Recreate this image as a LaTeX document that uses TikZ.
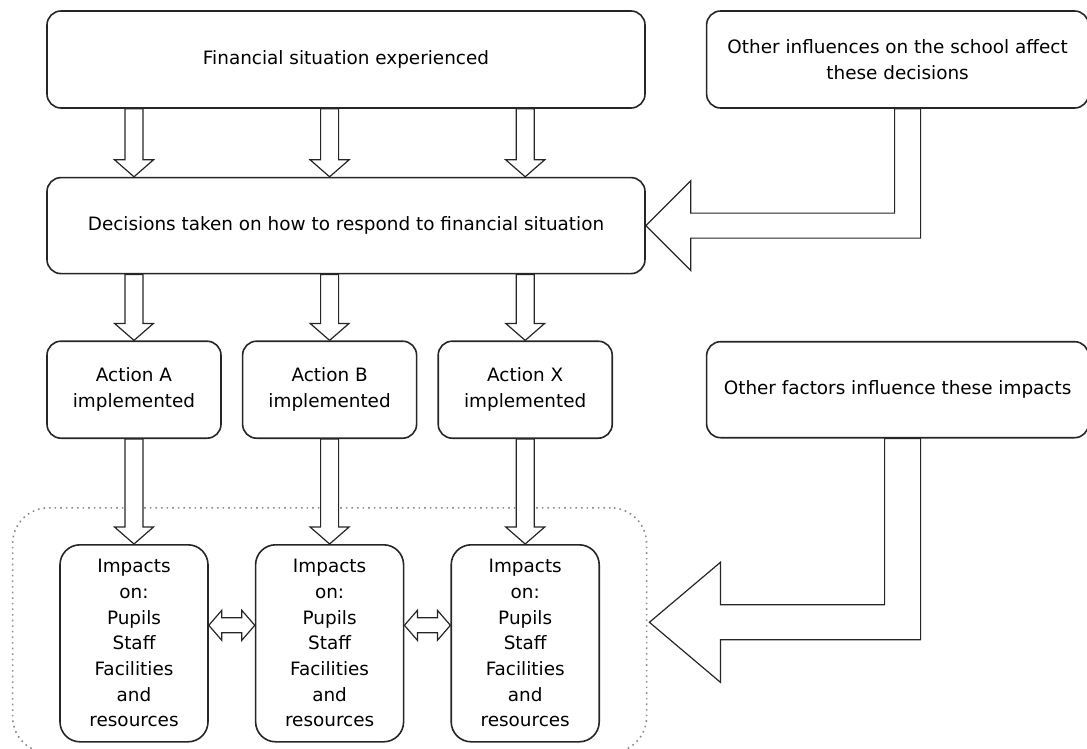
\documentclass[tikz,border=0pt]{standalone}
\usepackage{fontspec}
\setmainfont{DejaVu Sans}
\usetikzlibrary{positioning,calc}

\begin{document}
\begin{tikzpicture}[
    node distance=10pt,
    every node/.style={font=\fontsize{9.2}{12.85}\selectfont},
    stagebox/.style={
        rectangle, rounded corners=7pt,
        draw=black!85, line width=0.8pt,
        minimum width=299pt, minimum height=48pt,
        align=center, inner sep=3pt
    },
    sidebox/.style={stagebox, minimum width=191pt},
    actbox/.style={stagebox, minimum width=87pt, minimum height=48.5pt},
    impactbox/.style={stagebox, rounded corners=10pt, minimum width=74pt, minimum height=98.5pt},
    groupbox/.style={
        rectangle, rounded corners=18pt,
        draw=black!45, dotted, line width=0.8pt,
        minimum width=317pt, minimum height=122.5pt
    },
    blockarr/.style={draw=black!85, line width=0.6pt, fill=white, line join=miter},
]
\useasboundingbox (0,0) rectangle (543.5pt,-374.5pt);

\node[stagebox, minimum height=48.5pt] (fin) at (173pt,-29.75pt) {Financial situation experienced};
\node[sidebox, minimum height=48.5pt, right=30pt of fin] (infl) {Other influences on the school affect\\these decisions};
\node[stagebox, below=34pt of fin] (dec) {Decisions taken on how to respond to financial situation};

\node[actbox, below right=33pt and 0pt of dec.south west] (actA) {Action A\\implemented};
\node[actbox, right=10pt of actA] (actB) {Action B\\implemented};
\node[actbox, right=10pt of actB] (actX) {Action X\\implemented};
\node[sidebox] (fact) at (infl |- actA) {Other factors influence these impacts};

\node[impactbox, below=52.5pt of actA] (impA) {Impacts\\on:\\Pupils\\Staff\\Facilities\\and\\resources};
\node[impactbox, below=52.5pt of actB] (impB) {Impacts\\on:\\Pupils\\Staff\\Facilities\\and\\resources};
\node[impactbox, below=52.5pt of actX] (impX) {Impacts\\on:\\Pupils\\Staff\\Facilities\\and\\resources};
\node[groupbox] (impgroup) at ($(impB)+(0,6.5pt)$) {};

% hollow down arrows
\foreach \a/\b/\c in {fin/dec/actA, fin/dec/actB, fin/dec/actX,
                      dec/actA/actA, dec/actB/actB, dec/actX/actX,
                      actA/impA/actA, actB/impB/actB, actX/impX/actX}
  \draw[blockarr] let \p1=(\a.south -| \c), \p2=(\b.north -| \c) in
    (\x1-4.5pt,\y1) -- (\x1-4.5pt,\y2+8.5pt) -- (\x1-9.75pt,\y2+8.5pt) -- (\p2)
    -- (\x1+9.75pt,\y2+8.5pt) -- (\x1+4.5pt,\y2+8.5pt) -- (\x1+4.5pt,\y1) -- cycle;

% two-way arrows between the impacts
\foreach \a/\b in {impA/impB, impB/impX}
  \draw[blockarr] let \p1=($(\a.east)+(0,9pt)$), \p2=($(\b.west)+(0,9pt)$) in
    (\p1) -- (\x1+6.5pt,\y1+7.5pt) -- (\x1+6.5pt,\y1+3.75pt) -- (\x2-6.5pt,\y1+3.75pt)
    -- (\x2-6.5pt,\y1+7.5pt) -- (\p2) -- (\x2-6.5pt,\y1-7.5pt) -- (\x2-6.5pt,\y1-3.75pt)
    -- (\x1+6.5pt,\y1-3.75pt) -- (\x1+6.5pt,\y1-7.5pt) -- cycle;

% bent arrows from the side boxes
\draw[blockarr] let \p1=(dec.east), \p2=(infl.south) in
  (\p1) -- ++(22.5pt,22.5pt) -- ++(0,-16.25pt) -- (\x2-1.5pt,\y1+6.25pt) -- (\x2-1.5pt,\y2)
  -- (\x2+11.5pt,\y2) -- (\x2+11.5pt,\y1-6.25pt) -- (\x1+22.5pt,\y1-6.25pt) -- ++(0,-16.25pt) -- cycle;
\draw[blockarr] let \p1=($(impgroup.east)+(1pt,4pt)$), \p2=(fact.south) in
  (\p1) -- ++(35.5pt,30pt) -- ++(0,-21.25pt) -- (\x2-6.5pt,\y1+8.75pt) -- (\x2-6.5pt,\y2)
  -- (\x2+11.5pt,\y2) -- (\x2+11.5pt,\y1-8.75pt) -- (\x1+35.5pt,\y1-8.75pt) -- ++(0,-21.25pt) -- cycle;

\end{tikzpicture}
\end{document}
